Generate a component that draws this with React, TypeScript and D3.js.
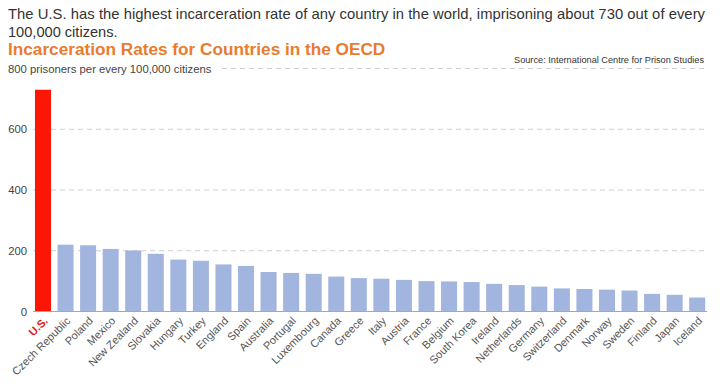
import React from 'react'
import * as d3 from 'd3'

const countries = [
  'U.S.', 'Czech Republic', 'Poland', 'Mexico', 'New Zealand', 'Slovakia', 'Hungary',
  'Turkey', 'England', 'Spain', 'Australia', 'Portugal', 'Luxembourg', 'Canada', 'Greece',
  'Italy', 'Austria', 'France', 'Belgium', 'South Korea', 'Ireland', 'Netherlands',
  'Germany', 'Switzerland', 'Denmark', 'Norway', 'Sweden', 'Finland', 'Japan', 'Iceland'
]

const rates = [
  730, 220, 218, 206, 201, 190, 171,
  167, 155, 150, 130, 127, 124, 115, 110,
  108, 104, 100, 99, 97, 91, 87,
  82, 76, 74, 72, 69, 58, 55, 46
]

const yTicks = [0, 200, 400, 600, 800]

const width = 720
const height = 386
const font = '"Liberation Sans", Arial, sans-serif'

export default function App() {
  const x = d3.scaleBand<string>()
    .domain(countries)
    .range([31.7, 708.5])
    .paddingInner(0.29)
    .paddingOuter(0.145)

  const y = d3.scaleLinear().domain([0, 800]).range([311.5, 68.5])

  return (
    <svg width={width} height={height} style={{ position: 'absolute', left: 0, top: 0, background: '#fff' }}>
      {/* header */}
      <text x={8} y={19} fontFamily={font} fontSize={14.8} fill="#333" textLength={697} lengthAdjust="spacing">
        The U.S. has the highest incarceration rate of any country in the world, imprisoning about 730 out of every
      </text>
      <text x={8} y={37} fontFamily={font} fontSize={14.6} fill="#333">100,000 citizens.</text>
      <text x={8} y={55} fontFamily={font} fontSize={17.2} fontWeight="bold" fill="#e97b2e">
        Incarceration Rates for Countries in the OECD
      </text>
      <text x={704} y={63} textAnchor="end" fontFamily={font} fontSize={9.2} fill="#333">
        Source: International Centre for Prison Studies
      </text>

      {/* grid */}
      {yTicks.filter(t => t > 0).map(t => (
        <line key={t} x1={t === 800 ? 222 : 33} x2={706} y1={y(t)} y2={y(t)}
          stroke="#cfcfcf" strokeDasharray="5,4" />
      ))}
      {yTicks.map(t => (
        t === 800
          ? <text key={t} x={8} y={y(t) + 4} fontFamily={font} fontSize={11.3} fill="#444">
              800 prisoners per every 100,000 citizens
            </text>
          : <text key={t} x={27} y={y(t) + 4} textAnchor="end" fontFamily={font} fontSize={11.3} fill="#444">
              {t}
            </text>
      ))}

      {/* bars */}
      {countries.map((c, i) => (
        <rect key={c} x={x(c)} y={y(rates[i])} width={x.bandwidth()} height={y(0) - y(rates[i])}
          fill={i === 0 ? '#fc1606' : '#a2b5de'} />
      ))}
      <line x1={33} x2={707} y1={y(0)} y2={y(0)} stroke="#a8a8a8" strokeWidth={1.2} />

      {/* x labels */}
      {countries.map((c, i) => (
        <text key={c} transform={`translate(${x(c)! + x.bandwidth() / 2},316) rotate(-45)`}
          dy="0.71em" textAnchor="end" fontFamily={font} fontSize={11}
          fontWeight={i === 0 ? 'bold' : 'normal'} fill={i === 0 ? '#e0201a' : '#555'}>
          {c}
        </text>
      ))}
    </svg>
  )
}
